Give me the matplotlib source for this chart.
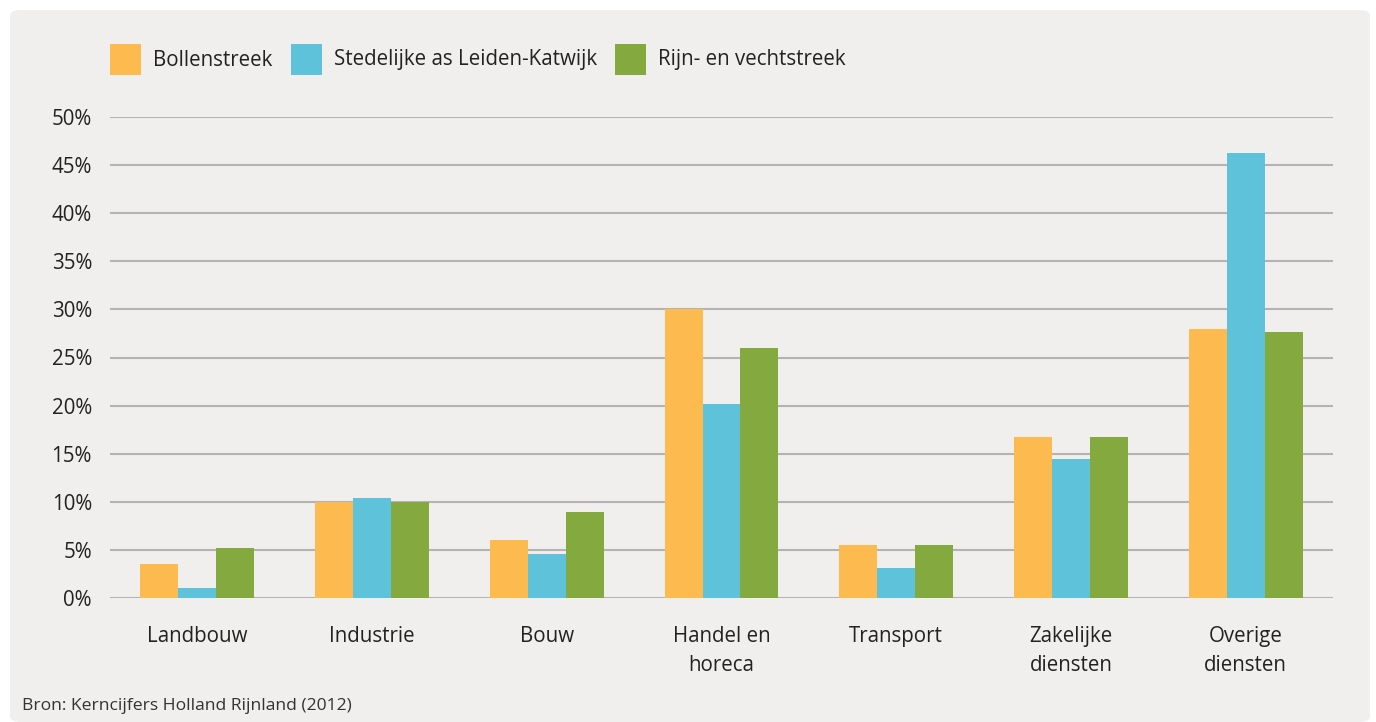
import matplotlib
matplotlib.use("Agg")
import matplotlib.pyplot as plt
from matplotlib.patches import FancyBboxPatch, Rectangle
import numpy as np

categories = ["Landbouw", "Industrie", "Bouw", "Handel en\nhoreca", "Transport",
              "Zakelijke\ndiensten", "Overige\ndiensten"]
series_names = ["Bollenstreek", "Stedelijke as Leiden-Katwijk", "Rijn- en vechtstreek"]
bollenstreek = [3.5, 10.0, 6.0, 30.0, 5.5, 16.7, 28.0]
stedelijke = [1.0, 10.4, 4.6, 20.2, 3.1, 14.4, 46.3]
rijn_vecht = [5.2, 10.0, 8.9, 26.0, 5.5, 16.7, 27.7]
yticks = [0, 5, 10, 15, 20, 25, 30, 35, 40, 45, 50]
source = "Bron: Kerncijfers Holland Rijnland (2012)"

colors = ["#FDBB4F", "#5EC3DA", "#84A93E"]
bg = "#F0EFED"
txt = "#222222"

plt.rcParams['font.family'] = ['Open Sans', 'DejaVu Sans']

W, H = 1376, 722
fig = plt.figure(figsize=(W / 100, H / 100), dpi=100)
fig.patch.set_facecolor("white")

# panel
panel = FancyBboxPatch((10 / W, 0), (1360 / W), (712 / H),
                       boxstyle="round,pad=0,rounding_size=0.008",
                       transform=fig.transFigure, facecolor=bg, edgecolor="none",
                       zorder=-5)
fig.patches.append(panel)

ax_l, ax_r = 110, 1333
ax_top, ax_bot = 117, 598
ax = fig.add_axes([ax_l / W, 1 - ax_bot / H, (ax_r - ax_l) / W, (ax_bot - ax_top) / H])
ax.set_facecolor("none")
ax.set_zorder(2)

x = np.arange(len(categories))
bw = 0.217
for i, (vals, c) in enumerate(zip([bollenstreek, stedelijke, rijn_vecht], colors)):
    ax.bar(x + (i - 1) * bw, vals, width=bw, color=c, zorder=3, linewidth=0)

ax.set_xlim(-0.5, len(categories) - 0.5)
ax.set_ylim(0, 50)
ax.set_yticks(yticks)
ax.set_yticklabels([f"{v}%" for v in yticks], fontsize=14.8, color=txt)
ax.set_xticks(x)
ax.set_xticklabels(categories, fontsize=14.8, color=txt, linespacing=1.5)
ax.tick_params(axis="both", length=0)
ax.tick_params(axis="y", pad=13)
ax.tick_params(axis="x", pad=20)
ax.grid(axis="y", color="#B3B3B3", linewidth=1.5, zorder=1)
for s in ax.spines.values():
    s.set_visible(False)

# legend
leg_sq = [(110, 44), (291, 44), (615, 44)]
for (lx, ly), c, name in zip(leg_sq, colors, series_names):
    fig.patches.append(Rectangle((lx / W, 1 - (ly + 31) / H), 31 / W, 31 / H,
                                 transform=fig.transFigure, facecolor=c,
                                 edgecolor="none", zorder=2))
    fig.text((lx + 43) / W, 1 - (ly + 16) / H, name, fontsize=14.8, color=txt,
             va="center", ha="left")

fig.text(22 / W, 1 - 706 / H, source, fontsize=12.6, color="#333333",
         va="center", ha="left")

fig.savefig("out.png", dpi=100, facecolor=fig.get_facecolor())
